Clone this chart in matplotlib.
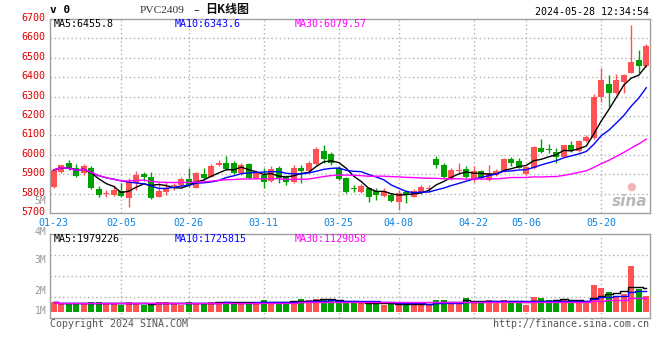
import matplotlib
matplotlib.use('Agg')
import matplotlib.pyplot as plt
import matplotlib.transforms as mtransforms
import numpy as np
import pandas as pd

# ---------------- data ----------------
dates = ["01-23", "01-24", "01-25", "01-26", "01-29", "01-30", "01-31",
         "02-01", "02-02", "02-05", "02-06", "02-07", "02-08",
         "02-19", "02-20", "02-21", "02-22", "02-23",
         "02-26", "02-27", "02-28", "02-29", "03-01",
         "03-04", "03-05", "03-06", "03-07", "03-08",
         "03-11", "03-12", "03-13", "03-14", "03-15",
         "03-18", "03-19", "03-20", "03-21", "03-22",
         "03-25", "03-26", "03-27", "03-28", "03-29",
         "04-01", "04-02", "04-03",
         "04-08", "04-09", "04-10", "04-11", "04-12",
         "04-15", "04-16", "04-17", "04-18", "04-19",
         "04-22", "04-23", "04-24", "04-25", "04-26",
         "04-29", "04-30",
         "05-06", "05-07", "05-08", "05-09", "05-10",
         "05-13", "05-14", "05-15", "05-16", "05-17",
         "05-20", "05-21", "05-22", "05-23", "05-24",
         "05-27", "05-28"]

opens = [5836, 5909, 5960, 5931, 5905, 5931, 5824, 5800, 5793, 5814,
         5776, 5853, 5900, 5884, 5785, 5810, 5840, 5845, 5874, 5831,
         5902, 5888, 5948, 5960, 5960, 5905, 5952, 5879, 5897, 5866,
         5931, 5884, 5859, 5931, 5914, 5952, 6021, 6005, 5931, 5879,
         5830, 5810, 5828, 5814, 5788, 5793, 5759, 5810, 5785, 5805,
         5826, 5978, 5948, 5876, 5919, 5926, 5871, 5914, 5871, 5897,
         5914, 5978, 5966, 5902, 5931, 6034, 6028, 6017, 5991, 6052,
         6022, 6069, 6085, 6298, 6367, 6316, 6376, 6424, 6488, 6457]
highs = [5926, 5948, 5971, 5952, 5953, 5940, 5840, 5819, 5845, 5853,
         5879, 5919, 5909, 5909, 5853, 5862, 5857, 5884, 5931, 5909,
         5931, 5953, 5971, 5995, 5966, 5957, 5957, 5914, 5931, 5940,
         5940, 5897, 5948, 5948, 5966, 6040, 6052, 6017, 5940, 5888,
         5845, 5850, 5836, 5828, 5828, 5802, 5819, 5819, 5822, 5845,
         5845, 5995, 5957, 5931, 5960, 5940, 5940, 5922, 5948, 5926,
         5983, 5988, 5983, 5943, 6043, 6083, 6057, 6034, 6052, 6069,
         6078, 6103, 6312, 6450, 6410, 6419, 6414, 6669, 6540, 6571]
lows = [5830, 5905, 5922, 5884, 5897, 5822, 5785, 5781, 5788, 5781,
        5733, 5819, 5867, 5771, 5781, 5793, 5819, 5840, 5836, 5828,
        5871, 5884, 5940, 5922, 5902, 5897, 5874, 5874, 5828, 5862,
        5857, 5845, 5853, 5853, 5905, 5948, 5957, 5948, 5871, 5805,
        5810, 5805, 5759, 5767, 5781, 5759, 5716, 5750, 5781, 5798,
        5810, 5931, 5879, 5871, 5905, 5879, 5862, 5874, 5867, 5891,
        5909, 5940, 5931, 5897, 5926, 6009, 6009, 5957, 5988, 6014,
        6017, 6064, 6080, 6272, 6247, 6312, 6316, 6422, 6424, 6453]
closes = [5922, 5945, 5926, 5891, 5943, 5828, 5793, 5803, 5816, 5788,
          5862, 5897, 5888, 5776, 5814, 5831, 5845, 5876, 5845, 5905,
          5879, 5943, 5960, 5928, 5905, 5945, 5879, 5905, 5859, 5928,
          5879, 5859, 5934, 5919, 5957, 6031, 5979, 5957, 5876, 5810,
          5826, 5841, 5785, 5793, 5814, 5764, 5805, 5798, 5814, 5836,
          5830, 5948, 5884, 5922, 5922, 5884, 5914, 5879, 5905, 5919,
          5978, 5960, 5934, 5936, 6040, 6014, 6024, 5988, 6048, 6026,
          6072, 6091, 6298, 6384, 6319, 6384, 6410, 6479, 6459, 6560]
volumes_m = [0.83, 0.64, 0.64, 0.64, 0.64, 0.83, 0.83, 0.64, 0.72, 0.58,
             0.83, 0.72, 0.58, 0.58, 0.83, 0.83, 0.64, 0.58, 0.83, 0.72,
             0.72, 0.83, 0.72, 0.83, 0.72, 0.72, 0.83, 0.64, 1.00, 0.72,
             0.83, 0.83, 0.83, 1.06, 1.00, 1.06, 1.06, 1.00, 0.72, 0.72,
             0.72, 0.72, 0.72, 0.64, 0.58, 0.72, 0.64, 0.64, 0.72, 0.58,
             0.58, 1.00, 1.00, 0.72, 0.83, 1.11, 0.83, 0.72, 1.00, 0.89,
             1.00, 0.72, 0.72, 0.58, 1.19, 1.11, 0.92, 1.00, 1.00, 0.83,
             1.00, 0.72, 2.17, 1.94, 1.61, 1.33, 1.47, 3.78, 1.89, 1.33]

tick_dates = ["01-23", "02-05", "02-26", "03-11", "03-25", "04-08", "04-22", "05-06", "05-20"]
price_ticks = [5700, 5800, 5900, 6000, 6100, 6200, 6300, 6400, 6500, 6600, 6700]
vol_labels = ["5M", "4M", "3M", "2M", "1M"]

title_code = "PVC2409"
title_dash = "–"
title_cn = "日K线图"
timestamp = "2024-05-28 12:34:54"
price_legend = ["MA5:6455.8", "MA10:6343.6", "MA30:6079.57"]
vol_legend = ["MA5:1979226", "MA10:1725815", "MA30:1129058"]

# ---------------- styling ----------------
W, H = 660, 360
RED = '#ff5252'
GREEN = '#00a000'
FRAME = '#a0a0a0'
GRID = '#b0b0b0'
MONO = 'DejaVu Sans Mono'
MA_COLORS = ['#000000', '#0000ff', '#ff00ff']

fig = plt.figure(figsize=(W / 100, H / 100), dpi=100)
fig.patch.set_facecolor('white')


def fx(x):
    return x / W


def fy(y):
    return 1 - y / H


def ptext(x, y, s, **kw):
    fig.text(fx(x), fy(y), s, **kw)


n = len(closes)
x = np.arange(n)
o = np.array(opens, float)
c = np.array(closes, float)
hi = np.array(highs, float)
lo = np.array(lows, float)
vol = np.array(volumes_m, float)
up = c >= o
cols = np.where(up, RED, GREEN)

close_s = pd.Series(c)
ma = [close_s.rolling(k, min_periods=1).mean().values for k in (5, 10, 30)]
vol_s = pd.Series(vol)
vma = [vol_s.rolling(k, min_periods=1).mean().values for k in (5, 10, 30)]

tick_pos = [dates.index(d) for d in tick_dates]

# ---------------- price panel ----------------
axp = fig.add_axes([fx(50), fy(213), fx(600), 194 / H])
axp.set_xlim(-0.5, n - 0.5)
axp.set_ylim(5700, 6700)
for t in price_ticks[1:-1]:
    axp.axhline(t, color=GRID, lw=1, ls=(0, (1, 2)), zorder=0)
for p in tick_pos[1:]:
    axp.axvline(p, color=GRID, lw=1, ls=(0, (1, 2)), zorder=0)

axp.vlines(x, lo, hi, colors=cols, lw=1, zorder=2)
body_h = np.maximum(np.abs(c - o), 4)
body_b = np.minimum(o, c)
axp.bar(x, body_h, bottom=body_b, width=0.76, color=cols, lw=0, zorder=3)

for m, col in zip(ma, MA_COLORS):
    axp.plot(x, m, color=col, lw=1, zorder=4)

for sp in axp.spines.values():
    sp.set_color(FRAME)
    sp.set_linewidth(1)
axp.set_yticks(price_ticks)
axp.set_yticklabels([str(t) for t in price_ticks], color='#e00000',
                    fontsize=7.2, family=MONO)
axp.set_xticks(tick_pos)
axp.set_xticklabels(tick_dates, color='#0a84e6', fontsize=7.2, family=MONO)
axp.tick_params(axis='y', length=0, pad=3.5)
axp.tick_params(axis='x', length=0, pad=3.5)
off = mtransforms.ScaledTranslation(0, 2 / 100, fig.dpi_scale_trans)
for lab in axp.get_yticklabels():
    lab.set_transform(lab.get_transform() + off)

# ---------------- volume panel ----------------
vol_bottom_px, vol_top_px, vol_zero_px, px_per_m = 317.7, 234.0, 311.5, 12.0
axv = fig.add_axes([fx(50), fy(vol_bottom_px), fx(600), (vol_bottom_px - vol_top_px) / H])
axv.set_xlim(-0.5, n - 0.5)
ymin = -(vol_bottom_px - vol_zero_px) / px_per_m
ymax = (vol_zero_px - vol_top_px) / px_per_m
axv.set_ylim(ymin, ymax)
for k in (1, 2, 3):
    axv.axhline(ymin + (ymax - ymin) * k / 4, color=GRID, lw=1, ls=(0, (1, 2)), zorder=0)
for p in tick_pos[1:]:
    axv.axvline(p, color=GRID, lw=1, ls=(0, (1, 2)), zorder=0)
axv.bar(x, vol, width=0.76, color=cols, lw=0, zorder=2)
for m, col in zip(vma, MA_COLORS):
    axv.plot(x, m, color=col, lw=1, drawstyle='steps-mid', zorder=4)
for sp in axv.spines.values():
    sp.set_color(FRAME)
    sp.set_linewidth(1)
axv.set_xticks([])
axv.set_yticks([])

# volume axis labels (sina style)
for lab, yy in zip(vol_labels, [201, 231.5, 260, 291, 311]):
    ptext(46.5, yy, lab, ha='right', va='center', color='#999999', fontsize=7.0, family=MONO)

# ---------------- header & legends ----------------
ptext(50.5, 10, "v 0", ha='left', va='center', fontsize=8, family=MONO, fontweight='bold')
ptext(140, 10.5, title_code, ha='left', va='center', fontsize=8.2, family='Liberation Serif',
      color='#333333')
ptext(193, 10, title_dash, ha='left', va='center', fontsize=8, family='DejaVu Sans',
      color='#111111')
ptext(205, 10, title_cn, ha='left', va='center', fontsize=8.6,
      family=['Noto Sans CJK SC', 'DejaVu Sans'], fontweight='bold', color='#111111')
ptext(649, 12, timestamp, ha='right', va='center', fontsize=7.2, family=MONO)

for s, xx, col in zip(price_legend, [54, 175, 295], MA_COLORS):
    ptext(xx, 24, s, ha='left', va='center', fontsize=7.2, family=MONO, color=col)
for s, xx, col in zip(vol_legend, [54, 175, 295], MA_COLORS):
    ptext(xx, 239.5, s, ha='left', va='center', fontsize=7.2, family=MONO, color=col)

ptext(50, 324, "Copyright 2024 SINA.COM", ha='left', va='center', fontsize=7.2,
      family=MONO, color='#555555')
ptext(649, 324, "http://finance.sina.com.cn", ha='right', va='center', fontsize=7.2,
      family=MONO, color='#555555')

# sina watermark
ptext(631, 187, "●", ha='center', va='center', fontsize=8, color='#f4a0a0', alpha=0.8)
ptext(630, 202, "sina", ha='center', va='center', fontsize=11, fontweight='bold',
      style='italic', color='#b8b8b8', family='DejaVu Sans')

fig.savefig('out.png', dpi=100, facecolor='white')
